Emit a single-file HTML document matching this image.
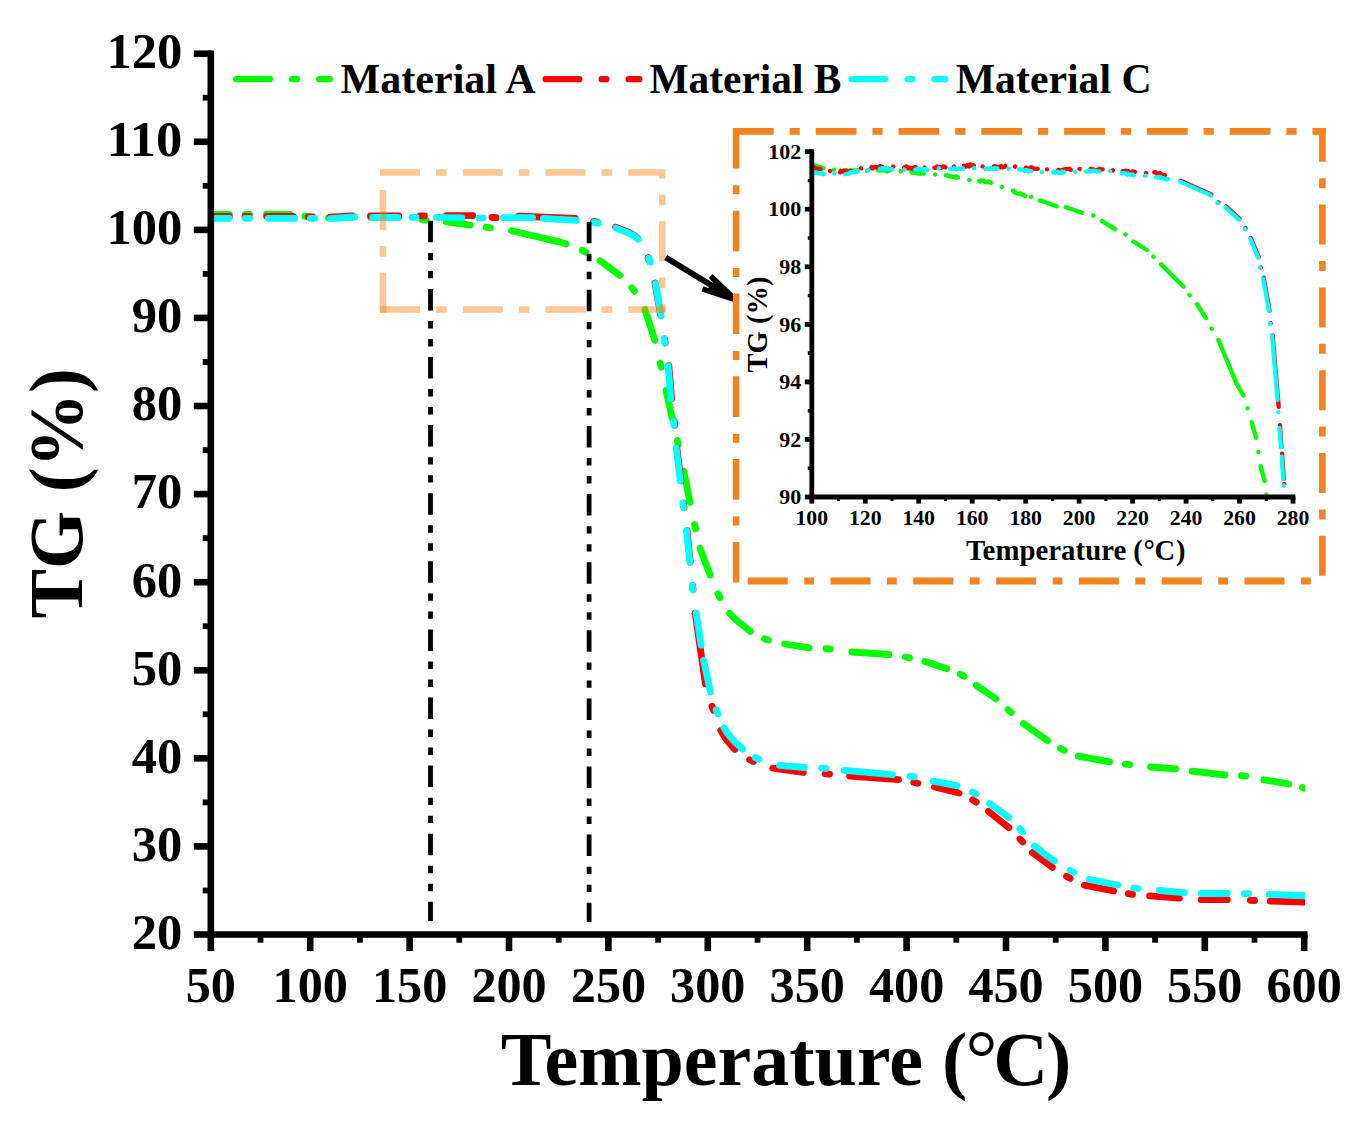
<!DOCTYPE html>
<html lang="en"><head><meta charset="utf-8"><title>TG curves</title>
<style>html,body{margin:0;padding:0;background:#fff}svg{display:block}text{font-family:"Liberation Serif", "Times New Roman", Times, serif;font-weight:bold;fill:#000}</style></head><body>
<svg width="1367" height="1127" viewBox="0 0 1367 1127">
<rect width="1367" height="1127" fill="#fff"/>
<defs><clipPath id="cm"><rect x="210.8" y="40" width="1094.2" height="894.5"/></clipPath><clipPath id="ci"><rect x="811.8" y="140" width="483.2" height="359"/></clipPath></defs>
<g clip-path="url(#cm)" fill="none" stroke-width="6.8" stroke-linecap="round" stroke-linejoin="round">
<path stroke="#00ff00" d="M205 214.5L229.3 214.5M245.3 214.5L249.5 214.5M266.4 214.2L289.8 214.3M304.9 216.2L309.1 216.7M328.5 217.7L351.8 217.5M370.6 217.2L398.6 217.1M421.7 219.6L425.9 220M446.4 221.9L470 225.2M486.1 227.2L490.3 227.8M511.5 230.7L560.1 242.1L565.9 243.9M582.1 250.4L585.9 252.3M600 260.8L617.3 273.4L619.6 275.4M631.8 287.8L634.4 291.2M644.9 309.4L654.9 340.5M660.2 363.1L661.1 367.3M666 390.2L672.1 417.8M677.3 440.4L678.2 444.6M683.8 471.2L690 502.3M694.6 524.7L695.4 528.9M700 548.2L710.1 575.1M718 593.8L719.9 597.6M729.5 613.4L736.5 620.4L750.5 631.5M764.5 638.7L768.5 640.1M784.8 644L809 647.8M826 648.6L830.2 649M851.9 652L888.9 654.5M905.3 657L909.5 657.8M924.9 661.5L946.9 668.8M960.2 674.1L963.9 676.2M976.3 685.4L995.8 698.8M1008 709.7L1011.2 712.5M1023.3 723.5L1047.6 740.7M1060.4 748.4L1064.2 750.4M1078.2 756.2L1109.5 761.9M1125.3 764.1L1129.5 764.7M1150.7 767L1175.6 768.8M1192.1 771.2L1224.8 775M1241.4 775.6L1245.6 776.1M1264 779.8L1288.7 784M1302.5 787.6L1306.5 788.8"/>
<path stroke="#ff0000" d="M205 216.5L229.3 216.5M244.9 216.4L249.1 216.4M266.7 216.3L293.2 216.4M308.4 216.8L312.6 217M330.4 217.2L352.5 215.9M370.6 216L398.6 216M420.2 215.8L424.4 215.8M446.4 215.7L472.9 215.6M492 217.5L496.2 217.6M518.8 216.1L575.3 218.5M593.6 221.4L597.6 222.4M615.6 227.2L629 232.4L634.3 235.4L637.7 238.3M648.1 257.6L649.6 261.6M655 283L660.7 315.2M664.5 338.8L665.1 343M668.8 365.6L671.6 398.7M674.2 421.1L674.6 425.3M676.9 447.9L680.9 480.9M683.5 503.2L684.1 507.4M687.1 530.7L690.2 562.1M692.6 585.6L693 589.8M695.2 613.2L705.4 683.8M712.1 706.3L713.5 710.3M720.8 730.5L725.9 738.9L733 747.5L734.9 749.4M749.6 759.7L753.4 761.5M772.8 768.2L803.3 772.5M825.3 773.8L829.5 774.1M849.6 776L898.5 779.6M913.7 782.4L917.8 783.3M934.4 787L957.2 792.4L959.1 793.1M972.7 799.9L976.3 802.1M988.5 811.3L1008.8 827.7M1019.9 839L1022.7 842M1032.3 852.5L1052.4 867.3M1066.5 876.2L1070.1 878.3M1084.3 885.2L1113.7 890.9M1128.3 893.7L1132.5 894.3M1149.6 895.9L1179.3 898.2M1201.2 899.7L1227.3 899.7M1250.3 900.3L1254.5 900.5M1270.2 901.1L1312 902.4"/>
<path stroke="#00ffff" d="M205 218.3L229.2 218.3M245.3 218.3L249.5 218.3M268.2 218.3L294.7 218.3M310.4 218.3L314.6 218.4M330.4 218.6L354.7 217M372.8 217.3L397.8 217.3M411.9 217.3L416.1 217.3M436.6 217.3L461.9 217.8M478.9 217.8L483.1 217.8M503.4 217.6L532.6 217.6M543.4 218.3L576.5 220.3M593.9 222.3L598.1 223.1M616 228.1L629.4 233.4L634.7 236.3L638.1 239.2M648.7 258.3L650.2 262.3M655.6 283.7L661.1 315.6M664.2 338.8L664.8 343M668.1 365.6L670.8 398.7M673.5 421.1L673.9 425.3M676.2 447.9L680.2 480.9M682.9 503.2L683.5 507.4M686.5 530.7L689.8 562.1M692.3 585.6L692.9 589.8M696.2 613.2L701.1 645.1M703.6 660.2L710.4 691.9M716.3 709.8L717.8 713.8M724 727.8L727.7 733.7L735.1 742.2L742.8 749.1M755.2 757.6L759 759.3M779.5 765.3L804.2 767.5M821.6 768.1L825.8 768.4M844.3 770.3L892.5 774.6M909.9 776.1L914.1 776.8M933.1 781.2L955.1 785.3L956.9 785.8M972.2 792L975.9 794M989.6 803.4L1008.8 817.5M1019.9 828.7L1022.7 831.9M1034.3 846L1045.9 855.2L1054.3 860.9M1070 870.4L1073.6 872.4M1089.1 879.4L1117.6 885M1133.7 888L1137.9 888.6M1159.2 890.5L1184.4 892.6M1201.2 893.5L1227.3 893.5M1244.4 893.7L1248.6 893.7M1269.4 894.4L1312 896"/>
</g>
<g stroke="#ff8214" stroke-opacity="0.45" stroke-width="6.5" fill="none" stroke-dasharray="40 16.1 10.6 16.1">
<path d="M379.9 172.4H662.2V312.8"/>
<path d="M379.9 309.5H665.4"/>
<path d="M383 312.8V175.65"/>
</g>
<g stroke="#000" stroke-width="4.8" fill="none" stroke-dasharray="21.5 10.6 7.4 10.6 7.4 10.6">
<path d="M430.5 220.8V921"/>
<path d="M589.1 221.7V921.9"/>
</g>
<path d="M665.7 257.6L726 294.2" stroke="#000" stroke-width="5.9" fill="none"/>
<path d="M712.6 274L738 298.4V303.4L701.4 291.6L703.4 286.2L708.2 288L713.8 283.4L708.8 277.8Z" fill="#000"/>
<g stroke="#000" stroke-width="6.6" fill="none">
<path d="M210.8 50.4V937.8"/>
<path d="M207.5 934.5H1307.5"/>
<path d="M193.8 934.5H210.8"/>
<path d="M193.8 846.4H210.8"/>
<path d="M193.8 758.3H210.8"/>
<path d="M193.8 670.3H210.8"/>
<path d="M193.8 582.2H210.8"/>
<path d="M193.8 494.1H210.8"/>
<path d="M193.8 406H210.8"/>
<path d="M193.8 317.9H210.8"/>
<path d="M193.8 229.9H210.8"/>
<path d="M193.8 141.8H210.8"/>
<path d="M193.8 53.7H210.8"/>
<path d="M202.7 890.5H210.8" stroke-width="5.8"/>
<path d="M202.7 802.4H210.8" stroke-width="5.8"/>
<path d="M202.7 714.3H210.8" stroke-width="5.8"/>
<path d="M202.7 626.2H210.8" stroke-width="5.8"/>
<path d="M202.7 538.1H210.8" stroke-width="5.8"/>
<path d="M202.7 450.1H210.8" stroke-width="5.8"/>
<path d="M202.7 362H210.8" stroke-width="5.8"/>
<path d="M202.7 273.9H210.8" stroke-width="5.8"/>
<path d="M202.7 185.8H210.8" stroke-width="5.8"/>
<path d="M202.7 97.7H210.8" stroke-width="5.8"/>
<path d="M210.8 934.5V951.1"/>
<path d="M310.2 934.5V951.1"/>
<path d="M409.6 934.5V951.1"/>
<path d="M509 934.5V951.1"/>
<path d="M608.4 934.5V951.1"/>
<path d="M707.8 934.5V951.1"/>
<path d="M807.2 934.5V951.1"/>
<path d="M906.6 934.5V951.1"/>
<path d="M1006 934.5V951.1"/>
<path d="M1105.4 934.5V951.1"/>
<path d="M1204.8 934.5V951.1"/>
<path d="M1304.2 934.5V951.1"/>
<path d="M260.5 934.5V942.7" stroke-width="5.8"/>
<path d="M359.9 934.5V942.7" stroke-width="5.8"/>
<path d="M459.3 934.5V942.7" stroke-width="5.8"/>
<path d="M558.7 934.5V942.7" stroke-width="5.8"/>
<path d="M658.1 934.5V942.7" stroke-width="5.8"/>
<path d="M757.5 934.5V942.7" stroke-width="5.8"/>
<path d="M856.9 934.5V942.7" stroke-width="5.8"/>
<path d="M956.3 934.5V942.7" stroke-width="5.8"/>
<path d="M1055.7 934.5V942.7" stroke-width="5.8"/>
<path d="M1155.1 934.5V942.7" stroke-width="5.8"/>
<path d="M1254.5 934.5V942.7" stroke-width="5.8"/>
</g>
<g font-size="50">
<text x="131.7" y="948.8" textLength="50.6" lengthAdjust="spacingAndGlyphs">20</text>
<text x="131.7" y="860.7" textLength="50.6" lengthAdjust="spacingAndGlyphs">30</text>
<text x="131.7" y="772.6" textLength="50.6" lengthAdjust="spacingAndGlyphs">40</text>
<text x="131.7" y="684.6" textLength="50.6" lengthAdjust="spacingAndGlyphs">50</text>
<text x="131.7" y="596.5" textLength="50.6" lengthAdjust="spacingAndGlyphs">60</text>
<text x="131.7" y="508.4" textLength="50.6" lengthAdjust="spacingAndGlyphs">70</text>
<text x="131.7" y="420.3" textLength="50.6" lengthAdjust="spacingAndGlyphs">80</text>
<text x="131.7" y="332.2" textLength="50.6" lengthAdjust="spacingAndGlyphs">90</text>
<text x="106.4" y="244.2" textLength="75.9" lengthAdjust="spacingAndGlyphs">100</text>
<text x="106.4" y="156.1" textLength="75.9" lengthAdjust="spacingAndGlyphs">110</text>
<text x="106.4" y="68" textLength="75.9" lengthAdjust="spacingAndGlyphs">120</text>
<text x="185.7" y="1001.8" textLength="50.2" lengthAdjust="spacingAndGlyphs">50</text>
<text x="272.6" y="1001.8" textLength="75.3" lengthAdjust="spacingAndGlyphs">100</text>
<text x="372" y="1001.8" textLength="75.3" lengthAdjust="spacingAndGlyphs">150</text>
<text x="471.4" y="1001.8" textLength="75.3" lengthAdjust="spacingAndGlyphs">200</text>
<text x="570.8" y="1001.8" textLength="75.3" lengthAdjust="spacingAndGlyphs">250</text>
<text x="670.1" y="1001.8" textLength="75.3" lengthAdjust="spacingAndGlyphs">300</text>
<text x="769.6" y="1001.8" textLength="75.3" lengthAdjust="spacingAndGlyphs">350</text>
<text x="869" y="1001.8" textLength="75.3" lengthAdjust="spacingAndGlyphs">400</text>
<text x="968.4" y="1001.8" textLength="75.3" lengthAdjust="spacingAndGlyphs">450</text>
<text x="1067.8" y="1001.8" textLength="75.3" lengthAdjust="spacingAndGlyphs">500</text>
<text x="1167.1" y="1001.8" textLength="75.3" lengthAdjust="spacingAndGlyphs">550</text>
<text x="1266.5" y="1001.8" textLength="75.3" lengthAdjust="spacingAndGlyphs">600</text>
</g>
<text y="1085.3" font-size="76"><tspan x="500.8">Temperature (</tspan><tspan x="965.4" font-weight="normal" font-size="80">°</tspan><tspan x="993.3">C</tspan><tspan x="1046">)</tspan></text>
<text transform="translate(81.8 618.6) rotate(-90)" font-size="76" textLength="250.5" lengthAdjust="spacingAndGlyphs">TG (%)</text>
<g fill="none" stroke-width="6.2" stroke-linecap="round" stroke-dasharray="33.8 22.2 4.8 22.2">
<path stroke="#00ff00" d="M236.1 79.2H329.9"/>
<path stroke="#ff0000" d="M545.6 79.2H639.4"/>
<path stroke="#00ffff" d="M851.5 79.2H945.3"/>
</g>
<g font-size="41.3">
<text x="340.6" y="93.1" textLength="195" lengthAdjust="spacingAndGlyphs">Material A</text>
<text x="649.5" y="93.1" textLength="192" lengthAdjust="spacingAndGlyphs">Material B</text>
<text x="955.7" y="93.1" textLength="196" lengthAdjust="spacingAndGlyphs">Material C</text>
</g>
<g clip-path="url(#ci)" fill="none" stroke-width="4.3" stroke-linecap="round" stroke-linejoin="round" stroke-dasharray="14 12.6 0.1 12.6">
<path stroke="#00ff00" d="M811.8 165L812.9 165.5L813.9 165L815 166.3L816.1 165.7L817.1 166.3L818.2 167.1L819.3 166.7L820.4 167.7L821.4 167.4L822.5 168.3L823.6 168.4L824.6 168L825.7 167.5L826.8 168.9L827.8 169L828.9 168.5L830 168.1L831 168.9L832.1 169.4L833.2 168.6L834.3 170.4L835.3 169.2L836.4 170.4L837.5 170.8L838.5 171.1L839.6 170.7L840.7 169.9L841.7 171L842.8 170.3L843.9 170.2L844.9 170.6L846 170.3L847.1 171.2L848.2 171.2L849.2 170.9L850.3 170.1L851.4 170.5L852.4 170.7L853.5 170.3L854.6 170.5L855.6 170.7L856.7 169.9L857.8 170.1L858.9 170.8L859.9 170.3L861 170.4L862.1 169.8L863.1 170L864.2 170.8L865.3 169.6L866.3 171.1L867.4 170.5L868.5 170L869.5 171L870.6 170.4L871.7 171.2L872.8 170.1L873.8 169.9L874.9 170.3L876 169.8L877 170.7L878.1 170.1L879.2 170.2L880.2 170.3L881.3 170.5L882.4 169.9L883.4 169.8L884.5 170.7L885.6 170.4L886.7 171.5L887.7 170.5L888.8 170.7L889.9 170.1L890.9 170.5L892 171.5L893.1 171.4L894.1 171L895.2 172.2L896.3 171.5L897.3 172.1L898.4 172.2L899.5 172.4L900.6 171.2L901.6 172.4L902.7 172.3L903.8 172.1L904.8 171.3L905.9 172.8L907 172.2L908 172.1L909.1 171.6L910.2 171.8L911.2 171.8L912.3 172.9L913.4 172.7L914.5 172.9L915.5 172L916.6 172L917.7 173.5L918.7 173.5L919.8 173.5L920.9 173.5L921.9 173.2L923 173.1L924.1 173.7L925.1 174.2L926.2 173.6L927.3 173.7L928.4 173.5L929.4 172.9L930.5 173.4L931.6 173.8L932.6 173.7L933.7 173.6L934.8 174.8L935.8 173.4L936.9 173.7L938 173.6L939.1 173.8L940.1 174.5L941.2 174.6L942.3 175.2L943.3 174.3L944.4 175.4L945.5 175.5L946.5 175.4L947.6 175.7L948.7 175.6L949.7 176.4L950.8 176.7L951.9 176.6L953 176.9L954 176.7L955.1 177.5L956.2 176.2L957.2 176.9L958.3 177.9L959.4 178L960.4 178L961.5 178.2L962.6 178.8L963.6 177.8L964.7 177.8L965.8 178.9L966.9 179.1L967.9 179.9L969 180L970.1 179.7L971.1 180L972.2 179.2L973.3 180.5L974.3 180.9L975.4 179.4L976.5 180.3L977.5 181.1L978.6 180.5L979.7 181.6L980.8 180.9L981.8 180.2L982.9 180.6L984 181L985 181.9L986.1 181.9L987.2 182.3L988.2 181.4L989.3 182.2L990.4 182.2L991.4 183.4L992.5 183.9L993.6 183.3L994.7 183.4L995.7 184L996.8 184.5L997.9 184.8L998.9 185.3L1000 186.6L1001.1 186.5L1002.1 187.2L1003.2 188.1L1004.3 188.5L1005.3 188.5L1006.4 188.9L1007.5 188.6L1008.6 188.6L1009.6 189.9L1010.7 189.5L1011.8 189.8L1012.8 190.3L1013.9 191.8L1015 192.5L1016 192.9L1017.1 193.4L1018.2 193.8L1019.3 193.5L1020.3 193.5L1021.4 194L1022.5 195L1023.5 195.2L1024.6 195.4L1025.7 197L1027 196.7"/>
<path stroke="#ff0000" d="M811.8 167.2L812.9 166.9L813.9 167.5L815 167.8L816.1 168.7L817.1 169.7L818.2 168.6L819.3 169.9L820.4 169.2L821.4 169.1L822.5 170.6L823.6 170.9L824.6 170L825.7 170.8L826.8 172.3L827.8 172.7L828.9 172.6L830 171L831 171.2L832.1 172.6L833.2 171.1L834.3 170.8L835.3 171.5L836.4 172.2L837.5 171.7L838.5 172.6L839.6 172.9L840.7 170.8L841.7 171.5L842.8 171.8L843.9 170.9L844.9 171.8L846 170.7L847.1 170.6L848.2 171.8L849.2 171.5L850.3 171.3L851.4 171.2L852.4 170.3L853.5 170.8L854.6 170.3L855.6 170.8L856.7 168.9L857.8 169.9L858.9 169.5L859.9 169.1L861 168.2L862.1 169.1L863.1 167.8L864.2 168.6L865.3 168.3L866.3 168.2L867.4 169.2L868.5 168.2L869.5 168.6L870.6 168.9L871.7 167L872.8 168.3L873.8 167.5L874.9 166.9L876 167.1L877 167.5L878.1 167L879.2 166.8L880.2 166.2L881.3 167.5L882.4 166.4L883.4 167L884.5 166.8L885.6 165.6L886.7 166.1L887.7 166L888.8 165.7L889.9 165.4L890.9 166.5L892 166.2L893.1 166.5L894.1 166.6L895.2 166.2L896.3 166.8L897.3 166.7L898.4 166.9L899.5 166L900.6 166.6L901.6 166.3L902.7 166.2L903.8 167.8L904.8 167.2L905.9 166.4L907 166.7L908 168.3L909.1 168.4L910.2 167.7L911.2 168.5L912.3 168.1L913.4 168.5L914.5 167.2L915.5 166.9L916.6 166.7L917.7 168.3L918.7 167.1L919.8 167.2L920.9 168.3L921.9 166.7L923 166.5L924.1 168.1L925.1 166.5L926.2 167.7L927.3 167.6L928.4 166.5L929.4 166.8L930.5 168.2L931.6 167.5L932.6 167.3L933.7 167.6L934.8 167.8L935.8 167.5L936.9 166.5L938 168L939.1 166.8L940.1 166.9L941.2 167.8L942.3 167L943.3 166.3L944.4 166.5L945.5 167.4L946.5 165.3L947.6 165.7L948.7 165.2L949.7 167L950.8 166.6L951.9 167.1L953 165.4L954 166.5L955.1 166.8L956.2 166.1L957.2 165L958.3 165.2L959.4 166.4L960.4 166.6L961.5 164.9L962.6 165.6L963.6 165.3L964.7 166.6L965.8 166.7L966.9 165.2L967.9 165.8L969 166.5L970.1 164.6L971.1 165.2L972.2 164.9L973.3 166.5L974.3 164.8L975.4 166.5L976.5 164.8L977.5 165.8L978.6 166L979.7 165.6L980.8 164.8L981.8 166.3L982.9 166.6L984 165.8L985 166.4L986.1 166.7L987.2 166.7L988.2 166.9L989.3 166.6L990.4 166.4L991.4 166.5L992.5 165.5L993.6 166.5L994.7 166.2L995.7 166.9L996.8 166.6L997.9 167.4L998.9 167L1000 167.6L1001.1 166.1L1002.1 166.6L1003.2 167.4L1004.3 166.9L1005.3 165.9L1006.4 167.8L1007.5 166.3L1008.6 167.2L1009.6 167.2L1010.7 166.5L1011.8 167.5L1012.8 167.4L1013.9 167L1015 166.5L1016.1 167.9L1017.2 166.9L1018.3 167.2L1019.4 167.4L1020.5 168L1021.7 168.1L1022.8 168.8L1023.9 168.7L1025 168.9L1026.1 167.5L1027.2 168.6L1028.3 168.8L1029.5 169.1L1030.6 167.5L1031.7 167.4L1032.8 167.9L1033.9 168.8L1035 169L1036.1 168.9L1037.2 168.6L1038.3 169.3L1039.4 168.7L1040.4 169.2L1041.5 167.7L1042.6 167.7L1043.7 168.7L1044.8 169.4L1045.8 167.9L1046.9 169.4L1048 169.4L1049.1 170.2L1050.2 169.4L1051.3 169.3L1052.3 169.3L1053.4 170L1054.5 169.4L1055.6 170.5L1056.7 170L1057.7 170.4L1058.8 169.8L1059.9 170.5L1061 170.6L1062 170L1063.1 170.1L1064.2 169.4L1065.2 169.5L1066.3 169L1067.4 169.2L1068.4 169.1L1069.5 168.7L1070.6 169.8L1071.6 169.9L1072.7 168.5L1073.8 170.3L1074.9 169.1L1075.9 169.2L1077 170.5L1078.1 168.8L1079.1 168.7L1080.2 169.3L1081.3 169L1082.3 168.9L1083.4 170.3L1084.5 169.5L1085.5 169.5L1086.6 168.8L1087.7 168.9L1088.8 168.8L1089.8 169.4L1090.9 168.7L1092 169.1L1093 169.1L1094.1 170.1L1095.2 170.6L1096.2 170.3L1097.3 169.8L1098.4 170.4L1099.5 168.8L1100.5 169.4L1101.6 169.3L1102.7 169.3L1103.7 169.1L1104.8 169.6L1105.9 170.6L1106.9 169L1108 169.2L1109.1 169.8L1110.1 169.8L1111.2 169.7L1112.3 171L1113.4 169.7L1114.4 170.8L1115.5 171.3L1116.6 171L1117.6 170.1L1118.7 171.3L1119.8 170.2L1120.8 169.8L1121.9 170.9L1123 171.3L1124 171.2L1125.1 170.8L1126.2 170.7L1127.3 171.1L1128.3 171.2L1129.4 172.5L1130.5 172.4L1131.5 172.3L1132.6 171.3L1133.7 172.3L1134.8 171.8L1135.8 173.1L1136.9 173.1L1138 172.7L1139.1 171.8L1140.2 171.9L1141.2 172L1142.3 172.9L1143.4 172.4L1144.5 172.6L1145.6 172.7L1146.7 173.5L1147.7 171.9L1148.8 173.4L1149.9 171.8L1151 172L1152.1 174L1153.1 173.1L1154.2 172.4L1155.3 172.1L1156.4 173.3L1157.5 173.8L1158.6 174.3L1159.7 173L1160.8 175L1162 174.5L1163.1 175.8L1164.2 175.3L1165.3 174.8L1166.5 176.9L1167.6 175.7L1168.7 176.8L1169.9 176.3L1171 177.1L1172.1 178.4L1173.2 178.2" stroke-dashoffset="3"/>
<path stroke="#00ffff" d="M811.8 171.2L812.9 172L813.9 172.9L815 173L816.1 172.5L817.1 172.7L818.2 173.1L819.3 173.5L820.4 173.3L821.4 173.5L822.5 172.9L823.6 174.3L824.6 173.3L825.7 173.3L826.8 174.6L827.8 173.5L828.9 173.8L830 173.5L831 174.5L832.1 174.3L833.2 174.3L834.3 173.4L835.3 174L836.4 174.4L837.5 174.3L838.5 174.5L839.6 174.8L840.7 174.7L841.7 173.6L842.8 174.5L843.9 173.5L844.9 174.3L846 174.1L847.1 173.6L848.2 173.8L849.2 173.4L850.3 172.3L851.4 172.2L852.4 172.1L853.5 172.2L854.6 171.6L855.6 171.4L856.7 171.8L857.8 171.3L858.9 172.1L859.9 170.9L861 171.1L862.1 170.5L863.1 170.5L864.2 170.8L865.3 171L866.3 169.5L867.4 170.5L868.5 169.8L869.5 169.8L870.6 169.7L871.7 168.8L872.8 168.3L873.8 169.1L874.9 168.3L876 168.7L877 168.3L878.1 168.6L879.2 169L880.2 169L881.3 169L882.4 168L883.4 168.6L884.5 169L885.6 168L886.7 167.9L887.7 168.8L888.8 169.3L889.9 169.2L890.9 169.4L892 169.1L893.1 169.5L894.1 169.3L895.2 169.3L896.3 168.8L897.3 168.4L898.4 168.6L899.5 169.2L900.6 169.2L901.6 169L902.7 169.3L903.8 169.4L904.8 169.8L905.9 169.5L907 168.5L908 169.8L909.1 169.3L910.2 169.1L911.2 168.8L912.3 169.8L913.4 169.7L914.5 169.8L915.5 169.6L916.6 169.6L917.7 168.8L918.7 169L919.8 169L920.9 170.2L921.9 170.2L923 169.1L924.1 168.8L925.1 169.4L926.2 169.2L927.3 170.1L928.4 169.4L929.4 168.6L930.5 168.7L931.6 168.7L932.6 168.5L933.7 169.5L934.8 169.7L935.8 169.6L936.9 169L938 168.8L939.1 168.3L940.1 168.6L941.2 168.7L942.3 168.5L943.3 168.9L944.4 168.8L945.5 169.5L946.5 168.4L947.6 169.2L948.7 168.1L949.7 168.5L950.8 169L951.9 169.2L953 169L954 168.4L955.1 168.3L956.2 169.1L957.2 169.1L958.3 168.4L959.4 168.3L960.4 168.6L961.5 168.8L962.6 168.2L963.6 169.1L964.7 168.7L965.8 168.4L966.9 167.7L967.9 168.2L969 167.8L970.1 168.4L971.1 168.8L972.2 168.8L973.3 167.7L974.3 168.1L975.4 168.7L976.5 169.1L977.5 168.4L978.6 168.1L979.7 168.5L980.8 168.8L981.8 168.1L982.9 167.8L984 168.8L985 169.1L986.1 168.7L987.2 168.6L988.2 168.3L989.3 169L990.4 168.1L991.4 168.3L992.5 168.6L993.6 169.1L994.7 168L995.7 169L996.8 168.3L997.9 169.2L998.9 169.2L1000 168.5L1001.1 169.2L1002.1 168.2L1003.2 168.9L1004.3 169.4L1005.4 169.5L1006.5 169.3L1007.6 169L1008.7 168.6L1009.8 169.9L1010.9 169.6L1012 170L1013.1 168.9L1014.2 170.2L1015.3 170.5L1016.4 170.5L1017.5 170.1L1018.6 169.4L1019.7 169.5L1020.7 169.8L1021.8 169.5L1022.9 169.7L1024 170.7L1025.1 171L1026.2 170L1027.3 170.3L1028.4 171.5L1029.5 170.6L1030.6 171.1L1031.7 171.2L1032.8 171.4L1033.9 171.7L1035 172L1036.1 171.7L1037.2 171.6L1038.3 170.7L1039.4 172L1040.4 170.8L1041.5 172L1042.6 171.9L1043.7 171.2L1044.8 171.3L1045.8 171.9L1046.9 172.5L1048 172L1049.1 172.2L1050.2 171.4L1051.3 172.5L1052.3 172.3L1053.4 171.6L1054.5 173L1055.6 172.4L1056.7 171.9L1057.7 172L1058.8 173L1059.9 173L1061 172.9L1062 171.6L1063.1 172.5L1064.2 171.7L1065.2 171.4L1066.3 172.2L1067.4 172.2L1068.4 171.2L1069.5 171.6L1070.6 172.1L1071.6 171.3L1072.7 171.9L1073.8 171.9L1074.9 172.2L1075.9 171.1L1077 170.8L1078.1 171.1L1079.1 170.6L1080.2 172L1081.3 171.7L1082.3 171.3L1083.4 170.6L1084.5 170.6L1085.5 171.4L1086.6 171.6L1087.7 171.4L1088.8 171.3L1089.8 170.6L1090.9 171.7L1092 170.8L1093 170.9L1094.1 170.8L1095.2 170.9L1096.2 171.1L1097.3 171.5L1098.4 171.5L1099.5 171.5L1100.5 170.8L1101.6 171.9L1102.7 171.7L1103.7 170.9L1104.8 171.6L1105.9 171.9L1106.9 172.1L1108 171.5L1109.1 171.9L1110.1 171.1L1111.2 171.4L1112.3 171.4L1113.4 172.6L1114.4 173L1115.5 173.1L1116.6 172.7L1117.6 172.5L1118.7 173L1119.8 173.5L1120.8 173.3L1121.9 173.2L1123 173.2L1124 173.2L1125.1 173.2L1126.2 173.6L1127.3 174.6L1128.3 173.7L1129.4 174.6L1130.5 174.3L1131.5 174.8L1132.6 174.4L1133.7 175.3L1134.8 175.3L1135.8 175.4L1136.9 175.6L1138 174.6L1139.1 175.2L1140.2 175.7L1141.2 175.7L1142.3 174.9L1143.4 175.7L1144.5 176.2L1145.6 175.5L1146.7 175.8L1147.7 175.4L1148.8 176.8L1149.9 176.4L1151 175.9L1152.1 176L1153.1 176L1154.2 177.4L1155.3 177.1L1156.4 177.5L1157.5 177.5L1158.6 176.6L1159.7 177.5L1160.8 177.2L1162 178.4L1163.1 177.9L1164.2 178.8L1165.3 179.4L1166.5 178.9L1167.6 178.9L1168.7 180.5L1169.9 180L1171 180.3L1172.1 181.2L1173.2 181"/>
</g>
<g clip-path="url(#ci)" fill="none" stroke-width="4.3" stroke-linecap="round" stroke-linejoin="round">
<path stroke="#00ff00" d="M1030.9 197L1031.1 197M1039.9 200.4L1056.6 206.3M1065.7 207.3L1082.2 212.8M1093.1 215.5L1093.3 215.7M1101.9 221L1115 229.1M1125.3 234.4L1125.5 234.6M1133.4 241.5L1146.9 250M1153.3 256.6L1153.5 256.8M1161 264.3L1183.5 286.7M1189.5 295.1L1189.7 295.3M1196.9 304.1L1205.9 318.1M1211.6 328.6L1211.8 328.8M1218.3 339.9L1236.3 383.1L1243.4 395.5M1247.5 408.2L1247.5 408.4M1251.6 422.1L1256.1 437.9M1258.4 452L1258.4 452.2M1260.6 466.1L1264.5 480.9M1266.3 494.4L1266.3 494.6"/>
<path stroke="#ff0000" d="M1180.5 180.7L1209.5 193.6L1211.2 194.5M1218.3 202.2L1218.5 202.3M1226 206.4L1239.5 218.8M1245.4 228.1L1245.6 228.3M1250.7 237.9L1258.7 256.9M1260.7 267.4L1260.8 267.6M1263.7 277.6L1269.6 310.9M1270.5 323.1L1270.6 323.3M1272.6 335.1L1278.7 406.9M1279.9 425.1L1281.5 446.9M1282.1 453.6L1283.8 478.9M1284.2 483.9L1284.3 484.1"/>
<path stroke="#00ffff" d="M1180 181.6L1208.9 194.4L1210.7 195.4M1217.5 202.8L1217.7 203M1225.5 207.3L1238.9 219.6M1244.8 228.9L1245 229.1M1250.2 238.9L1258 257.4M1260.1 268L1260.1 268.2M1263.1 278.6L1269 310.9M1270 323.7L1270 323.9M1272 335.1L1277.6 399.9M1278.3 412.1L1278.3 412.3M1279.5 428.1L1281 447.4M1281.7 456.6L1283.2 478.9M1283.8 485.5L1283.8 485.7"/>
</g>
<g stroke="#000" stroke-width="4.8" fill="none">
<path d="M811.8 149.3V499.4"/>
<path d="M809.4 497H1295.4"/>
<path d="M804.8 497H811.8"/>
<path d="M804.8 439.4H811.8"/>
<path d="M804.8 381.9H811.8"/>
<path d="M804.8 324.4H811.8"/>
<path d="M804.8 266.8H811.8"/>
<path d="M804.8 209.2H811.8"/>
<path d="M804.8 151.7H811.8"/>
<path d="M807.8 468.2H811.8" stroke-width="3.5"/>
<path d="M807.8 410.7H811.8" stroke-width="3.5"/>
<path d="M807.8 353.1H811.8" stroke-width="3.5"/>
<path d="M807.8 295.6H811.8" stroke-width="3.5"/>
<path d="M807.8 238H811.8" stroke-width="3.5"/>
<path d="M807.8 180.5H811.8" stroke-width="3.5"/>
<path d="M811.8 497V503.6"/>
<path d="M865.3 497V503.6"/>
<path d="M918.7 497V503.6"/>
<path d="M972.2 497V503.6"/>
<path d="M1025.7 497V503.6"/>
<path d="M1079.1 497V503.6"/>
<path d="M1132.6 497V503.6"/>
<path d="M1186.1 497V503.6"/>
<path d="M1239.5 497V503.6"/>
<path d="M1293 497V503.6"/>
<path d="M838.5 497V501" stroke-width="3"/>
<path d="M892 497V501" stroke-width="3"/>
<path d="M945.5 497V501" stroke-width="3"/>
<path d="M998.9 497V501" stroke-width="3"/>
<path d="M1052.4 497V501" stroke-width="3"/>
<path d="M1105.9 497V501" stroke-width="3"/>
<path d="M1159.3 497V501" stroke-width="3"/>
<path d="M1212.8 497V501" stroke-width="3"/>
<path d="M1266.3 497V501" stroke-width="3"/>
</g>
<g font-size="21">
<text x="779.2" y="504.1" textLength="22" lengthAdjust="spacingAndGlyphs">90</text>
<text x="779.2" y="446.6" textLength="22" lengthAdjust="spacingAndGlyphs">92</text>
<text x="779.2" y="389" textLength="22" lengthAdjust="spacingAndGlyphs">94</text>
<text x="779.2" y="331.5" textLength="22" lengthAdjust="spacingAndGlyphs">96</text>
<text x="779.2" y="273.9" textLength="22" lengthAdjust="spacingAndGlyphs">98</text>
<text x="768.2" y="216.3" textLength="33" lengthAdjust="spacingAndGlyphs">100</text>
<text x="768.2" y="158.8" textLength="33" lengthAdjust="spacingAndGlyphs">102</text>
<text x="795.5" y="525" textLength="32.6" lengthAdjust="spacingAndGlyphs">100</text>
<text x="849" y="525" textLength="32.6" lengthAdjust="spacingAndGlyphs">120</text>
<text x="902.4" y="525" textLength="32.6" lengthAdjust="spacingAndGlyphs">140</text>
<text x="955.9" y="525" textLength="32.6" lengthAdjust="spacingAndGlyphs">160</text>
<text x="1009.4" y="525" textLength="32.6" lengthAdjust="spacingAndGlyphs">180</text>
<text x="1062.8" y="525" textLength="32.6" lengthAdjust="spacingAndGlyphs">200</text>
<text x="1116.3" y="525" textLength="32.6" lengthAdjust="spacingAndGlyphs">220</text>
<text x="1169.8" y="525" textLength="32.6" lengthAdjust="spacingAndGlyphs">240</text>
<text x="1223.2" y="525" textLength="32.6" lengthAdjust="spacingAndGlyphs">260</text>
<text x="1276.7" y="525" textLength="32.6" lengthAdjust="spacingAndGlyphs">280</text>
</g>
<text y="559.8" font-size="28.5"><tspan x="966" textLength="160.3" lengthAdjust="spacingAndGlyphs">Temperature</tspan><tspan x="1133.3">(</tspan><tspan x="1143.6">°</tspan><tspan x="1154.6">C</tspan><tspan x="1176">)</tspan></text>
<text transform="translate(767.1 324.5) rotate(-90)" font-size="28.5" text-anchor="middle">TG (%)</text>
<g stroke="#f4831f" fill="none">
<path d="M732.9 131.4H1325.7" stroke-width="6.8" stroke-dasharray="40.8 15.9 10.2 15.9"/>
<path d="M1322.4 128V584" stroke-width="6.6" stroke-dasharray="40 16.4 10 16.4" stroke-dashoffset="6.2"/>
<path d="M747.7 581H1325.7" stroke-width="6.8" stroke-dasharray="40 16.5 9.8 16.5"/>
<path d="M736.1 127.9V584.4" stroke-width="6.5" stroke-dasharray="40.6 16.8 9 16.4"/>
</g>
</svg></body></html>
